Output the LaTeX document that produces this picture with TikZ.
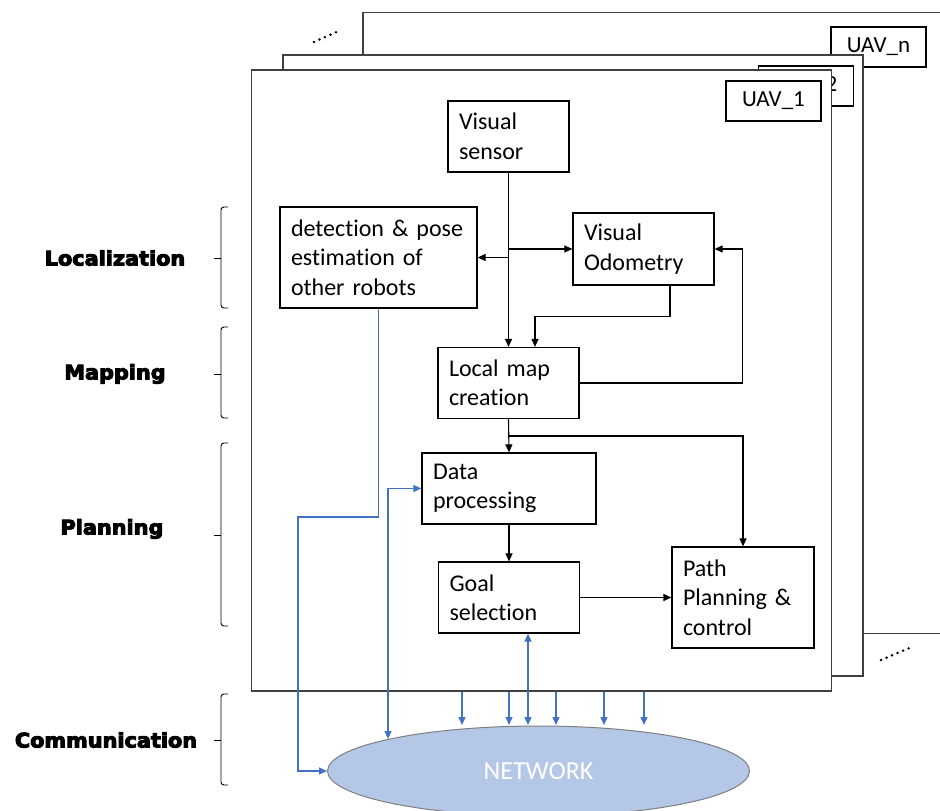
\documentclass[tikz,border=0pt]{standalone}
\usepackage{fontspec}
\setmainfont{Carlito}[Ligatures=NoCommon]
\newfontfamily\sidefont{DejaVu Sans}[UprightFont={* Bold}, FakeBold=5, FakeStretch=1.04]
\usetikzlibrary{arrows.meta,calc,shapes.geometric}
\definecolor{linkblue}{HTML}{4472C4}
\definecolor{netfill}{HTML}{B4C7E7}
\definecolor{netedge}{HTML}{7F7F7F}
\definecolor{framegray}{HTML}{404040}

\begin{document}
\begin{tikzpicture}[x=1pt,y=-1pt,
  uavframe/.style={draw=framegray, line width=1.2pt, fill=white, inner sep=0pt,
    minimum width=580pt, minimum height=621pt},
  tag/.style={draw, line width=1.2pt, fill=white, inner sep=0pt,
    minimum width=95pt, minimum height=40pt, font=\fontsize{23}{27}\selectfont},
  blk/.style={draw, line width=1.2pt, fill=white, align=left, inner xsep=11pt,
    inner ysep=0pt, font=\fontsize{24}{29.5}\selectfont},
  arr/.style={-{Triangle[length=8pt,width=7pt]}, line width=1.1pt},
  blu/.style={color=linkblue, line width=1.2pt, -{Triangle[length=8pt,width=7pt]}},
  blu2/.style={color=linkblue, line width=1.2pt,
    {Triangle[length=8pt,width=7pt]}-{Triangle[length=8pt,width=7pt]}},
  side/.style={font=\sidefont\fontsize{20}{24}\selectfont},
  bracket/.style={line width=0.9pt, rounded corners=3pt},
  dots/.style={line width=2.8pt, line cap=round, dash pattern=on 0pt off 6pt}]

\useasboundingbox (0,0) rectangle (940,811);

% stacked robot frames, back to front
\node[uavframe] (fn) at (653,323) {};
\node[tag] (tagn) at (878.5,47) {UAV\_n};
\node[uavframe] (f2) at (573,365.5) {};
\node[tag] (tag2) at (806,86) {UAV\_2};
\node[uavframe] (f1) at (541.5,380.5) {};
\node[tag] (tag1) at (773.5,101) {UAV\_1};

\draw[dots] (314,42) -- (341,30);
\draw[dots] (881,660) -- (914,646);

% processing blocks
\node[blk, text width=99pt, minimum height=71pt] (vs) at (508.5,136.5) {Visual\\sensor};
\node[blk, text width=175pt, minimum height=101pt] (det) at (378.5,257.5) {detection \& pose\\estimation of\\other robots};
\node[blk, text width=119pt, minimum height=72pt] (vo) at (643.5,249) {Visual\\Odometry};
\node[blk, text width=119pt, minimum height=71pt] (lm) at (508.5,383) {Local map\\creation};
\node[blk, text width=152pt, minimum height=71pt] (dp) at (509,488.5) {Data\\processing};
\node[blk, text width=119pt, minimum height=71pt] (gs) at (509,597.5) {Goal\\selection};
\node[blk, text width=120pt, minimum height=101pt] (pp) at (743,597.5) {Path\\Planning \&\\control};

% shared network
\node[ellipse, draw=netedge, fill=netfill, line width=1pt, inner sep=0pt,
  minimum width=422pt, minimum height=90pt, text=white,
  font=\fontsize{26}{30}\selectfont] (net) at (538.5,771) {NETWORK};

% data flow inside one robot
\draw[arr] (vs.south) -- (lm.north);
\draw[arr] (vs.south |- det.east) -- (det.east);
\draw[arr] (vs.south |- vo.west) -- (vo.west);
\draw[arr] ([xshift=26.5pt]vo.south) -- ++(0,31) -| ([xshift=26.5pt]lm.north);
\draw[arr] (lm.east) -- ++(163,0) |- (vo.east);
\draw[arr] (lm.south) -- (dp.north);
\draw[arr] (lm.south |- 0,436) -| (pp.north);
\draw[arr] (dp.south) -- (gs.north);
\draw[arr] (gs.east) -- (pp.west);

% links to the network
\foreach \x [count=\i] in {462,509,528,556,604,644}
  \coordinate (drop\i) at (\x,725);
\draw[blu] (det.south) |- (298,517) |- (net.west);
\draw[blu2] (net.168.2) |- (dp.west);
\draw[blu2] (gs.south -| drop3) -- (drop3);
\foreach \i in {1,2,4,5,6}
  \draw[blu] (f1.south -| drop\i) -- (drop\i);

% layer labels
\node[side] (loc) at (115,258) {Localization};
\node[side] (map) at (115,374) {Mapping};
\node[side] (pln) at (112,529) {Planning};
\node[side] (com) at (106,740) {Communication};

\draw[bracket] (228,207) -- (221,207) -- (221,308) -- (228,308);
\draw[line width=0.9pt] (214,258) -- (221,258);
\draw[bracket] (228,327) -- (221,327) -- (221,418) -- (228,418);
\draw[line width=0.9pt] (214,374) -- (221,374);
\draw[bracket] (228,443) -- (221,443) -- (221,626) -- (228,626);
\draw[line width=0.9pt] (214,535) -- (221,535);
\draw[bracket] (228,694) -- (221,694) -- (221,785) -- (228,785);
\draw[line width=0.9pt] (214,740) -- (221,740);
\end{tikzpicture}
\end{document}
